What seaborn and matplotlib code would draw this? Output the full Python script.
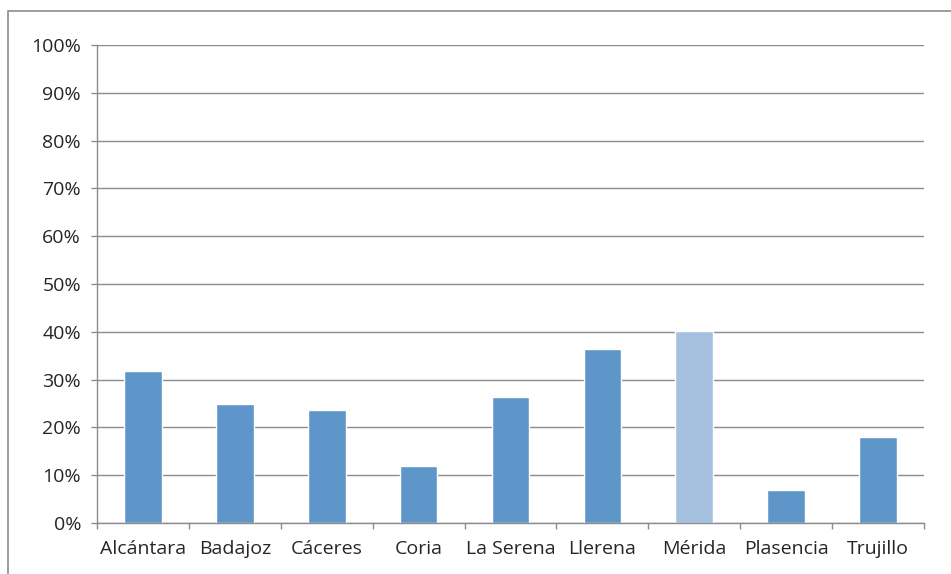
import matplotlib.pyplot as plt
import matplotlib.patches as mpatches
import seaborn as sns
import numpy as np

comarcas = ['Alcántara', 'Badajoz', 'Cáceres', 'Coria', 'La Serena',
            'Llerena', 'Mérida', 'Plasencia', 'Trujillo']
valores = [31.7, 25.0, 23.6, 12.0, 26.3, 36.5, 40.2, 6.8, 18.0]
yticks = [0, 10, 20, 30, 40, 50, 60, 70, 80, 90, 100]

azul = '#5f96c9'
azul_claro = '#a6c0e0'
gris = '#8c8c8c'
colores = [azul_claro if c == 'Mérida' else azul for c in comarcas]

sns.set_style('white')
plt.rcParams['font.family'] = ['Open Sans', 'DejaVu Sans']

fig = plt.figure(figsize=(9.51, 5.74), dpi=100)
ax = fig.add_axes([97/951, 1 - 523/574, (924 - 97)/951, (523 - 45)/574])

sns.barplot(x=comarcas, y=valores, hue=comarcas, palette=colores,
            width=0.41, legend=False, ax=ax, saturation=1)

ax.set_ylim(0, 100)
ax.set_xlim(-0.5, len(comarcas) - 0.5)
ax.set_yticks(yticks)
ax.set_yticklabels([f'{v}%' for v in yticks])
ax.yaxis.grid(True, color=gris, linewidth=1)
ax.set_axisbelow(True)

for s in ['top', 'right']:
    ax.spines[s].set_visible(False)
for s in ['left', 'bottom']:
    ax.spines[s].set_color(gris)
    ax.spines[s].set_linewidth(1)

ax.tick_params(axis='y', length=4.5, color=gris, width=1, labelsize=14,
               labelcolor='#262626', pad=7, left=True)
ax.tick_params(axis='x', which='major', length=0, labelsize=14,
               labelcolor='#262626', pad=12)
ax.set_xticks(np.arange(-0.5, len(comarcas)), minor=True)
ax.tick_params(axis='x', which='minor', length=4, color=gris, width=1, bottom=True)
ax.set_xlabel('')
ax.set_ylabel('')

# marco del gráfico
fig.patches.append(mpatches.Rectangle((8/951, -0.1), 1.2, 1 - 11/574 + 0.1,
                                      transform=fig.transFigure, fill=False,
                                      edgecolor='#8c8c8c', linewidth=1.2))

plt.savefig('out.png', dpi=100)
